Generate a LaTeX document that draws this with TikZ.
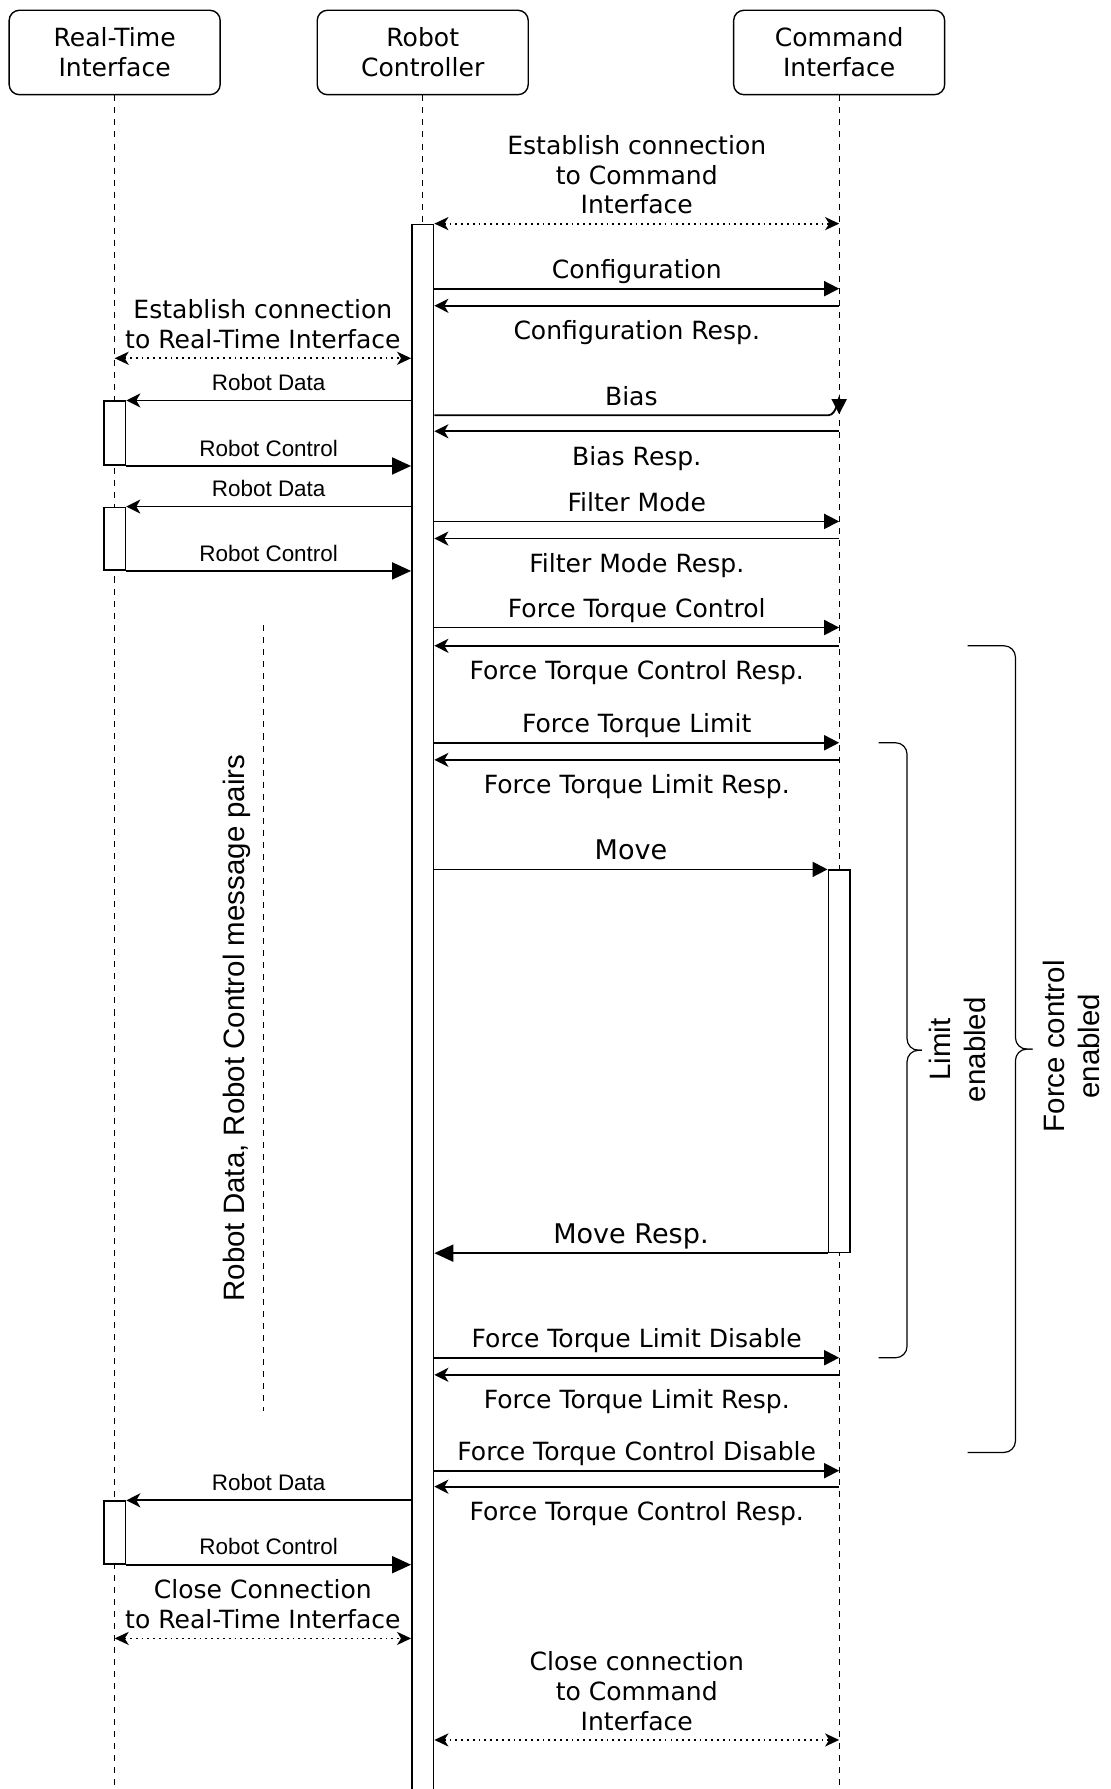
\documentclass[tikz,border=0pt]{standalone}
\usepackage{fontspec}
\setmainfont{DejaVu Sans}
\newfontfamily\arialfont{Liberation Sans}
\usetikzlibrary{positioning,arrows.meta}

\begin{document}
\begin{tikzpicture}[
  x=0.02cm, y=-0.02cm,
  font=\fontsize{12.5}{14.8}\selectfont,
  actor/.style={rectangle, rounded corners=0.18cm, draw=black, line width=0.7pt,
                minimum width=3.7cm, minimum height=1.48cm, align=center, inner sep=2pt},
  life/.style={line width=0.6pt, dash pattern=on 3pt off 3pt},
  bar/.style={rectangle, draw=black, fill=white, line width=0.8pt, minimum width=0.38cm, inner sep=0pt},
  msg/.style={line width=0.9pt, -{Triangle[length=7.5pt,width=7.5pt]}},
  big/.style={line width=0.9pt, -{Triangle[length=9.5pt,width=8.5pt]}},
  resp/.style={line width=0.9pt, -{Stealth[length=7pt,width=7pt,inset=2pt]}},
  conn/.style={line width=0.9pt, dotted, {Stealth[length=7pt,width=6.5pt,inset=2pt]}-{Stealth[length=7pt,width=6.5pt,inset=2pt]}},
  lbl/.style={inner sep=1pt, text height=0.75em, text depth=0.25em, align=center},
  small/.style={font=\arialfont\fontsize{11.2}{13}\selectfont},
  brace/.style={line width=0.6pt, rounded corners=0.2cm},
  side/.style={font=\arialfont\fontsize{14.7}{17.6}\selectfont, align=center, rotate=90}
]
\useasboundingbox (0,0) rectangle (973,1568);

% participants and lifelines
\node[actor] (rti) at (100.5,46) {Real-Time\\Interface};
\node[actor] (rc) at (370.5,46) {Robot\\Controller};
\node[actor] (ci) at (735.5,46) {Command\\Interface};
\foreach \a in {rti,rc,ci}
  \draw[life] (\a.south) -- (\a |- 0,1568);

% activation bars
\node[bar, anchor=north, minimum height=27.44cm] (rcbar) at (rc |- 0,196) {};
\node[bar, anchor=north, minimum height=1.12cm] (rtbar1) at (rti |- 0,351) {};
\node[bar, anchor=north, minimum height=1.10cm] (rtbar2) at (rti |- 0,444) {};
\node[bar, anchor=north, minimum height=1.10cm] (rtbar3) at (rti |- 0,1315) {};
\node[bar, anchor=north, minimum height=6.70cm] (cibar) at (ci |- 0,762) {};

% Command Interface
\draw[conn] (rcbar.east |- 0,196) -- node[lbl, above=1pt] {Establish connection\\to Command\\Interface} (ci |- 0,196);
\foreach \y/\z/\req/\rsp in {253/268/Configuration/Configuration Resp.,
    457/472/Filter Mode/Filter Mode Resp.,
    550/566/Force Torque Control/Force Torque Control Resp.,
    651/666/Force Torque Limit/Force Torque Limit Resp.,
    1190/1205/Force Torque Limit Disable/Force Torque Limit Resp.,
    1289/1303/Force Torque Control Disable/Force Torque Control Resp.}{
  \draw[msg] (rcbar.east |- 0,\y) -- node[lbl, above=1pt] {\req} (ci |- 0,\y);
  \draw[resp] (ci |- 0,\z) -- node[lbl, below=8pt] {\rsp} (rcbar.east |- 0,\z);
}
\coordinate (biastip) at (ci |- 0,363);
\draw[msg] (rcbar.east |- 0,364) -- node[lbl, above=1pt] {Bias} (726,364)
  .. controls (734,364) and (735.5,344) .. (biastip);
\draw[resp] (ci |- 0,378) -- node[lbl, below=8pt] {Bias Resp.} (rcbar.east |- 0,378);
\draw[msg] (rcbar.east |- cibar.north) -- node[lbl, above=1pt, font=\fontsize{13.5}{16}\selectfont] {Move} (cibar.north west);
\draw[big] (cibar.south west) -- node[lbl, above=1pt, font=\fontsize{13.5}{16}\selectfont] {Move Resp.} (rcbar.east |- cibar.south);
\draw[conn] (rcbar.east |- 0,1525) -- node[lbl, above=1pt] {Close connection\\to Command\\Interface} (ci |- 0,1525);

% Real-Time Interface
\draw[conn] (rti |- 0,314) -- node[lbl, above=1pt] {Establish connection\\to Real-Time Interface} (rcbar.west |- 0,314);
\foreach \b in {rtbar1,rtbar2,rtbar3}{
  \draw[resp] (rcbar.west |- \b.north) -- node[lbl, small, above=1pt] {Robot Data} (\b.north east);
  \draw[big] (\b.south east) -- node[lbl, small, above=1pt] {Robot Control} (rcbar.west |- \b.south);
}
\draw[conn] (rti |- 0,1436) -- node[lbl, above=1pt] {Close Connection\\to Real-Time Interface} (rcbar.west |- 0,1436);

% repeated pairs
\draw[life] (231,548) -- (231,1237);
\node[side] (pairs) at (208,901) {Robot Data, Robot Control message pairs};

% braces
\draw[brace] (770,651) -- (795,651) -- (795,920.5) -- (808,920.5);
\draw[brace] (808,920.5) -- (795,920.5) -- (795,1190) -- (770,1190);
\node[side] (limit) at (839,920) {Limit\\enabled};
\draw[brace] (848,566) -- (890,566) -- (890,919.5) -- (905,919.5);
\draw[brace] (905,919.5) -- (890,919.5) -- (890,1273) -- (848,1273);
\node[side] (force) at (939,917) {Force control\\enabled};
\end{tikzpicture}
\end{document}
